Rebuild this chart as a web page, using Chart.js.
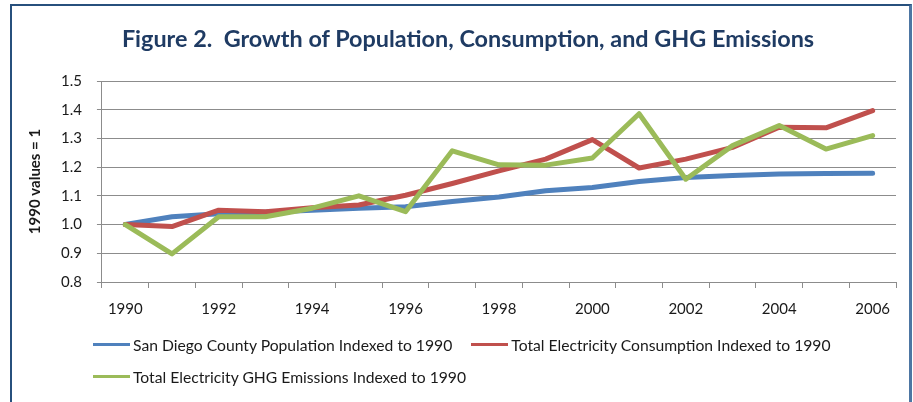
<!DOCTYPE html>
<html>
<head>
<meta charset="utf-8">
<script src="https://cdn.jsdelivr.net/npm/chart.js@4/dist/chart.umd.min.js"></script>
<style>
body { margin: 0; background: #fff; }
#frame {
	position: absolute; left: 10px; top: 4px; width: 902px; height: 440px;
	box-sizing: border-box;
	border-left: 2px solid #27507d; border-top: 2px solid #27507d; border-right: 3px solid #4d76a3;
}
#chart { position: absolute; left: 0; top: 0; }
#title {
	position: absolute; left: 68px; top: 24px; width: 800px; line-height: 28px;
	text-align: center; white-space: pre;
	font: bold 23.4px Lato, sans-serif; color: #1f3b63;
}
#legend {
	position: absolute; left: 93px; top: 334px; width: 780px;
	display: flex; flex-wrap: wrap; column-gap: 19px; row-gap: 11px;
	font: 15.7px Lato, sans-serif; color: #1a1a1a;
}
#legend .item { display: flex; align-items: center; height: 21px; white-space: nowrap; }
#legend .swatch { width: 37px; height: 3px; margin-right: 3px; }
</style>
</head>
<body>
<div id="frame"></div>
<canvas id="chart" width="913" height="338"></canvas>
<div id="title">Figure 2.  Growth of Population, Consumption, and GHG Emissions</div>
<div id="legend"></div>
<script>
// values (1990 = 1)
var years = ["1990","1991","1992","1993","1994","1995","1996","1997","1998","1999","2000","2001","2002","2003","2004","2005","2006"];
var population = [1.000, 1.027, 1.038, 1.043, 1.050, 1.057, 1.062, 1.080, 1.096, 1.118, 1.129, 1.150, 1.164, 1.171, 1.176, 1.178, 1.179];
var consumption = [1.000, 0.993, 1.050, 1.045, 1.059, 1.068, 1.102, 1.143, 1.187, 1.228, 1.296, 1.197, 1.228, 1.269, 1.339, 1.337, 1.397];
var emissions = [1.000, 0.898, 1.027, 1.027, 1.057, 1.100, 1.045, 1.257, 1.208, 1.207, 1.232, 1.386, 1.158, 1.275, 1.345, 1.263, 1.310];

var seriesNames = ["San Diego County Population Indexed to 1990", "Total Electricity Consumption Indexed to 1990", "Total Electricity GHG Emissions Indexed to 1990"];
var seriesColors = ["#4f81bd", "#c0504d", "#9bbb59"];

var font = "Lato";
var gridColor = "#8c8c8c";

var makeSet = function(i, values, order)
{
	return {
		label: seriesNames[i],
		data: values,
		borderColor: seriesColors[i],
		backgroundColor: seriesColors[i],
		borderWidth: 5,
		borderCapStyle: "round",
		borderJoinStyle: "round",
		pointRadius: 0,
		tension: 0,
		order: order
	};
};

// legend is plain html below the canvas
var htmlLegend = {
	id: "htmlLegend",
	afterUpdate: function(chart) {
		var box = document.getElementById("legend");
		box.innerHTML = "";
		chart.data.datasets.forEach(function(ds) {
			var item = document.createElement("div");
			item.className = "item";
			var sw = document.createElement("span");
			sw.className = "swatch";
			sw.style.background = ds.borderColor;
			var txt = document.createElement("span");
			txt.textContent = ds.label;
			item.appendChild(sw);
			item.appendChild(txt);
			box.appendChild(item);
		});
	}
};

var line_chart = new Chart(document.getElementById("chart"), {
	type: "line",
	data: {
		labels: years,
		datasets: [
			makeSet(0, population, 3),
			makeSet(1, consumption, 2),
			makeSet(2, emissions, 1)
		]
	},
	options: {
		responsive: false,
		animation: false,
		devicePixelRatio: 1,
		// top padding leaves room for the html title
		layout: { padding: { left: 12, right: 17, top: 81, bottom: 8 } },
		plugins: {
			legend: { display: false },
			tooltip: { enabled: false },
			title: { display: false }
		},
		scales: {
			x: {
				offset: true,
				grid: { offset: true, drawOnChartArea: false, drawTicks: true, tickLength: 6, color: gridColor },
				border: { display: true, color: gridColor, width: 1 },
				ticks: {
					autoSkip: false,
					maxRotation: 0,
					padding: 12,
					color: "#1a1a1a",
					font: { family: font, size: 15 },
					callback: function(value, index) {
						return index % 2 === 0 ? this.getLabelForValue(value) : "";
					}
				}
			},
			y: {
				min: 0.8,
				max: 1.5,
				grid: { color: gridColor, lineWidth: 1, tickLength: 5 },
				border: { display: true, color: gridColor, width: 1 },
				ticks: {
					stepSize: 0.1,
					padding: 15,
					color: "#1a1a1a",
					font: { family: font, size: 15 },
					callback: function(value) { return value.toFixed(1); }
				},
				title: {
					display: true,
					text: "1990 values = 1",
					color: "#1a1a1a",
					font: { family: font, size: 15, weight: "bold" },
					padding: { top: 14, bottom: 2 }
				}
			}
		}
	},
	plugins: [htmlLegend]
});
</script>
</body>
</html>
